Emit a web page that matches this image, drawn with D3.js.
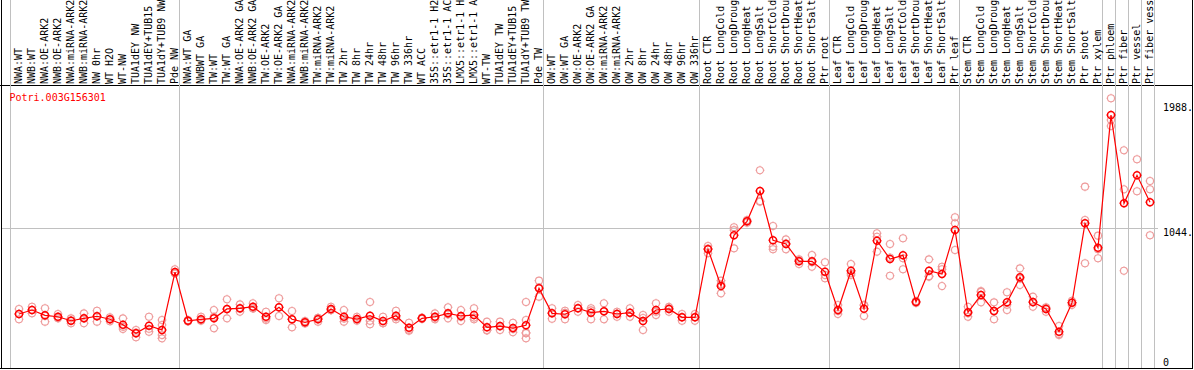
<!DOCTYPE html>
<html>
<head>
<meta charset="utf-8">
<script src="https://cdn.jsdelivr.net/npm/d3@7"></script>
<style>
  body { margin: 0; background: #fff; }
  svg { display: block; font-family: "DejaVu Sans Mono", monospace; font-size: 10px; }
</style>
</head>
<body>
<svg id="chart" width="1194" height="370"></svg>
<script>
const geneId = "Potri.003G156301";

// sample names as far as the header shows them (14 characters)
const categories = [
  "NWA:WT", "NWB:WT", "NWA:OE-ARK2", "NWB:OE-ARK2", "NWA:miRNA-ARK2", "NWB:miRNA-ARK2",
  "NW 0hr", "WT H2O", "WT-NW", "TUA1dEY NW", "TUA1dEY+TUB15", "TUA1dY+TUB9 NW", "Pde NW",
  "NWA:WT GA", "NWBWT GA", "TW:WT", "TW:WT GA", "NWA:OE-ARK2 GA", "NWB:OE-ARK2 GA",
  "TW:OE-ARK2", "TW:OE-ARK2 GA", "NWA:miRNA-ARK2", "NWB:miRNA-ARK2", "TW:miRNA-ARK2",
  "TW:miRNA-ARK2", "TW 2hr", "TW 8hr", "TW 24hr", "TW 48hr", "TW 96hr", "TW 336hr",
  "WT ACC", "35S::etr1-1 H2", "35S::etr1-1 AC", "LMX5::etr1-1 H", "LMX5::etr1-1 A",
  "WT-TW", "TUA1dEY TW", "TUA1dEY+TUB15", "TUA1dY+TUB9 TW", "Pde TW",
  "OW:WT", "OW:WT GA", "OW:OE-ARK2", "OW:OE-ARK2 GA", "OW:miRNA-ARK2", "OW:miRNA-ARK2",
  "OW 2hr", "OW 8hr", "OW 24hr", "OW 48hr", "OW 96hr", "OW 336hr",
  "Root CTR", "Root LongCold", "Root LongDroug", "Root LongHeat", "Root LongSalt",
  "Root ShortCold", "Root ShortDrou", "Root ShortHeat", "Root ShortSalt", "Ptr root",
  "Leaf CTR", "Leaf LongCold", "Leaf LongDroug", "Leaf LongHeat", "Leaf LongSalt",
  "Leaf ShortCold", "Leaf ShortDrou", "Leaf ShortHeat", "Leaf ShortSalt", "Ptr leaf",
  "Stem CTR", "Stem LongCold", "Stem LongDroug", "Stem LongHeat", "Stem LongSalt",
  "Stem ShortCold", "Stem ShortDrou", "Stem ShortHeat", "Stem ShortSalt", "Ptr shoot", "Ptr xylem",
  "Ptr phloem", "Ptr fiber", "Ptr vessel", "Ptr fiber vess"
];

// index where each sample group begins (gray separators)
const groupStarts = [0, 13, 41, 53, 63, 73, 84, 85, 86, 87];

const meanValues = [
  393, 423, 383, 372, 342, 360, 376, 353, 312, 247, 304, 272, 710,
  342, 353, 360, 431, 436, 448, 372, 444, 353, 330, 353, 431, 372, 355, 380, 340, 380,
  289, 360, 372, 398, 378, 385, 292, 302, 287, 308, 587,
  398, 391, 436, 403, 413, 393, 403, 340, 423, 431, 368, 368,
  882, 604, 988, 1093, 1322, 950, 922, 791, 791, 712,
  423, 720, 433, 947, 808, 836, 484, 720, 695, 1028,
  406, 536, 416, 481, 670, 484, 431, 259, 478, 1078, 894,
  1896, 1229, 1441, 1237
];

const replicateValues = [
  [431, 353, 393], [448, 398, 423], [436, 335, 378], [393, 360, 365], [360, 323, 343],
  [398, 323, 360], [418, 335, 376], [368, 338, 353], [360, 280, 296], [272, 217, 252],
  [372, 259, 281], [348, 310, 234, 209], [731, 700, 700],
  [348, 336, 342], [372, 342, 345], [423, 285, 372], [504, 360, 429], [466, 410, 432],
  [474, 436, 434], [410, 348, 358], [512, 378, 442], [416, 292, 351], [340, 321, 330],
  [360, 335, 364], [448, 423, 422], [423, 335, 358], [372, 342, 351], [484, 315, 341],
  [372, 323, 325], [418, 353, 369], [327, 267, 273], [366, 355, 359], [398, 353, 365],
  [444, 360, 390], [423, 340, 371], [436, 353, 366], [335, 272, 269], [335, 272, 299],
  [327, 255, 279], [484, 348, 247, 209, 252], [645, 524, 592],
  [436, 357, 401], [418, 353, 402], [461, 410, 437], [436, 353, 420], [474, 353, 412],
  [410, 372, 397], [436, 372, 401], [385, 272, 363], [474, 385, 410], [436, 410, 447],
  [393, 342, 369], [393, 342, 369],
  [907, 852, 887], [645, 549, 618], [1048, 889, 1027], [1103, 1083, 1093], [1479, 1241, 1246],
  [1058, 901, 882], [957, 882, 927], [796, 771, 806], [839, 750, 784], [784, 688, 663],
  [461, 393, 415], [771, 688, 701], [461, 378, 460], [1003, 977, 864], [922, 682, 820],
  [965, 814, 731], [491, 476, 485], [806, 675, 679], [750, 731, 604], [1124, 1078, 876],
  [448, 372, 398], [567, 481, 560], [481, 353, 414], [557, 423, 463], [738, 612, 660],
  [524, 448, 480], [444, 410, 439], [302, 234, 241], [493, 461, 480], [1355, 1103, 776],
  [985, 814, 883],
  [2023, 1859, 1813], [1630, 1335, 720], [1562, 1320], [1398, 1335, 988]
];

const yTickValues = [0, 1044, 1988];
const yTickLabels = ["0", "1044.", "1988."];
const gridValues = [1044];

// layout
var width = 1194,
    height = 370,
    headerY = 85.5,
    bottomY = 368.5,
    leftX = 1.5,
    rightX = 1192.5,
    cellW = 13,
    cellX0 = 10.5;

var svg = d3.select("#chart");

var x = d3.scaleBand()
    .domain(d3.range(categories.length))
    .range([cellX0, cellX0 + cellW * categories.length])
    .padding(0);

var y = d3.scaleLinear()
    .domain([0, 2025])
    .range([366, 98]);

var px = function(i) { return x(i) + 8.5; };

//frame
svg.append("line").attr("x1", 0).attr("x2", rightX).attr("y1", headerY).attr("y2", headerY)
    .attr("stroke", "#000").attr("shape-rendering", "crispEdges");
svg.append("line").attr("x1", 0).attr("x2", rightX).attr("y1", bottomY).attr("y2", bottomY)
    .attr("stroke", "#000").attr("shape-rendering", "crispEdges");
svg.append("line").attr("x1", leftX).attr("x2", leftX).attr("y1", 0).attr("y2", bottomY)
    .attr("stroke", "#000").attr("shape-rendering", "crispEdges");
svg.append("line").attr("x1", rightX).attr("x2", rightX).attr("y1", 0).attr("y2", bottomY)
    .attr("stroke", "#000").attr("shape-rendering", "crispEdges");

//horizontal grid
svg.selectAll(".hgrid")
    .data(gridValues)
    .enter().append("line")
    .attr("class", "hgrid")
    .attr("x1", leftX + 0.5)
    .attr("x2", x.range()[1] + 3)
    .attr("y1", function(d) { return Math.round(y(d)) + 0.5; })
    .attr("y2", function(d) { return Math.round(y(d)) + 0.5; })
    .attr("stroke", "#c0c0c0")
    .attr("shape-rendering", "crispEdges");

//group separators
var seps = groupStarts.map(function(i) { return x(i); }).concat([x.range()[1]]);
svg.selectAll(".vgrid")
    .data(seps)
    .enter().append("line")
    .attr("class", "vgrid")
    .attr("x1", function(d) { return d; })
    .attr("x2", function(d) { return d; })
    .attr("y1", 0)
    .attr("y2", bottomY - 0.5)
    .attr("stroke", "#c0c0c0")
    .attr("shape-rendering", "crispEdges");

//sample names, rotated
svg.selectAll(".name")
    .data(categories)
    .enter().append("text")
    .attr("class", "name")
    .attr("transform", function(d, i) {
        return "translate(" + (x(i) + 11.5) + "," + 84 + ") rotate(-90)";
    })
    .attr("fill", "#000")
    .text(function(d) { return d; });

//y labels
svg.selectAll(".ylab")
    .data(yTickValues)
    .enter().append("text")
    .attr("class", "ylab")
    .attr("x", 1163)
    .attr("y", function(d) { return Math.min(y(d) + 8.3, 366); })
    .attr("fill", "#000")
    .text(function(d, i) { return yTickLabels[i]; });

//gene title
svg.append("text")
    .attr("x", 9.5)
    .attr("y", 100.5)
    .attr("fill", "#ff0000")
    .text(geneId);

function marker(cx, cy, r) {
    var t = 1;
    return "M" + (cx - r) + "," + cy +
        "a" + r + "," + r + " 0 1,0 " + (2 * r) + ",0" +
        "a" + r + "," + r + " 0 1,0 " + (-2 * r) + ",0" +
        "M" + cx + "," + (cy - r - t) + "v" + t +
        "M" + cx + "," + (cy + r) + "v" + t +
        "M" + (cx - r - t) + "," + cy + "h" + t +
        "M" + (cx + r) + "," + cy + "h" + t;
}

//replicates
var reps = [];
replicateValues.forEach(function(list, i) {
    list.forEach(function(v) { reps.push({ i: i, v: v }); });
});

svg.selectAll(".rep")
    .data(reps)
    .enter().append("path")
    .attr("class", "rep")
    .attr("d", function(d) { return marker(px(d.i), y(d.v), 3.5); })
    .attr("fill", "none")
    .attr("stroke", "#ee9a9a")
    .attr("stroke-width", 1.1);

//mean line
var line = d3.line()
    .x(function(d, i) { return px(i); })
    .y(function(d) { return y(d); });

svg.append("path")
    .datum(meanValues)
    .attr("d", line)
    .attr("fill", "none")
    .attr("stroke", "#ff0000")
    .attr("stroke-width", 1.2);

//means
svg.selectAll(".mean")
    .data(meanValues)
    .enter().append("path")
    .attr("class", "mean")
    .attr("d", function(d, i) { return marker(px(i), y(d), 3.5); })
    .attr("fill", "none")
    .attr("stroke", "#ff0000")
    .attr("stroke-width", 1.5);
</script>
</body>
</html>
